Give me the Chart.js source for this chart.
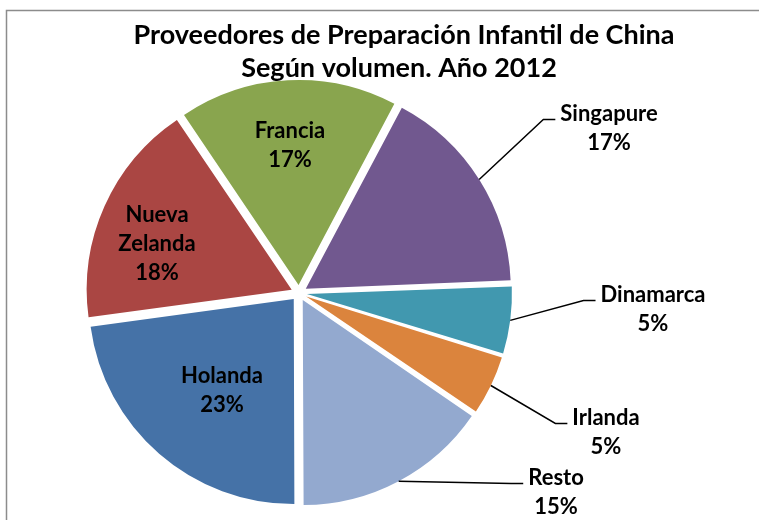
<!DOCTYPE html>
<html>
<head>
<meta charset="utf-8">
<script src="https://cdn.jsdelivr.net/npm/chart.js@4"></script>
<style>
  html, body { margin: 0; padding: 0; background: #fff; overflow: hidden; }
  #wrap { width: 806px; height: 520px; }
</style>
</head>
<body>
<div id="wrap"><canvas id="chartProveedores" width="806" height="520"></canvas></div>
<script>
/* Proveedores de preparacion infantil - China 2012 */
var paises = ['Singapure', 'Dinamarca', 'Irlanda', 'Resto', 'Holanda', 'Nueva Zelanda', 'Francia'];
var volumen = [16.6, 5.4, 4.8, 15.4, 22.9, 17.7, 17.2];
var colores = ['#71588F', '#4198AF', '#DB843D', '#93A9CF', '#4572A7', '#AA4643', '#89A54E'];
var titulo = ['Proveedores de Preparación Infantil de China', 'Según volumen. Año 2012'];

// donde va cada etiqueta, relativo al centro del pie (px); guia = linea guia
var posEtiquetas = [
  { dx: 310, dy: -165, guia: true },
  { dx: 354, dy: 16, guia: true },
  { dx: 307, dy: 139, guia: true },
  { dx: 257, dy: 199, guia: true },
  { dx: -77, dy: 97, guia: false },
  { dx: -142, dy: -49, guia: false, partir: true },
  { dx: -9, dy: -148, guia: false }
];

var radio = 205;
var separacion = 8; // explosion en px
var fuente = 'Lato, "DejaVu Sans", sans-serif';

/* Marco gris del grafico */
var marco = {
  id: 'marco',
  beforeDraw: (chart) => {
    let c = chart.ctx;
    c.save();
    c.strokeStyle = '#8c8c8c';
    c.lineWidth = 1.5;
    c.beginPath();
    c.moveTo(chart.width, 10.5);
    c.lineTo(6.5, 10.5);
    c.lineTo(6.5, chart.height);
    c.stroke();
    c.restore();
  }
};

/* Titulo (centrado sobre el marco, no sobre el pie) */
var tituloPlugin = {
  id: 'tituloPlugin',
  afterDraw: (chart) => {
    let c = chart.ctx;
    c.save();
    c.font = 'bold 27px ' + fuente;
    c.fillStyle = '#000';
    c.textAlign = 'center';
    c.textBaseline = 'alphabetic';
    c.fillText(titulo[0], 404, 44);
    c.fillText(titulo[1], 399, 77);
    c.restore();
  }
};

/* Quitar el radio extra que Chart.js agrega a las porciones chicas con offset */
var ajusteRadio = {
  id: 'ajusteRadio',
  beforeDatasetsDraw: (chart) => {
    let meta = chart.getDatasetMeta(0);
    let r = meta.controller.outerRadius;
    meta.data.forEach((arc) => {
      let fix = 1 - Math.sin(Math.min(Math.PI, arc.circumference));
      arc.outerRadius = r - separacion * fix;
    });
  }
};

/* Etiquetas con nombre y porcentaje */
var etiquetas = {
  id: 'etiquetas',
  afterDatasetsDraw: (chart) => {
    let c = chart.ctx;
    let meta = chart.getDatasetMeta(0);
    let total = volumen.reduce((a, b) => a + b, 0);
    c.save();
    c.font = 'bold 22px ' + fuente;
    c.fillStyle = '#000';
    c.textAlign = 'center';
    c.textBaseline = 'middle';
    meta.data.forEach((arc, i) => {
      let p = posEtiquetas[i];
      let lineas = p.partir ? paises[i].split(' ') : [paises[i]];
      lineas.push(Math.round(volumen[i] / total * 100) + '%');
      let cx = arc.x + p.dx;
      let cy = arc.y + p.dy;
      let alto = 29;
      let y0 = cy - (lineas.length - 1) * alto / 2;
      if (p.guia) {
        let medio = (arc.startAngle + arc.endAngle) / 2;
        let sx = arc.x + Math.cos(medio) * (separacion + radio);
        let sy = arc.y + Math.sin(medio) * (separacion + radio);
        let izq = cx - c.measureText(lineas[0]).width / 2;
        let ly = y0 + 6;
        c.beginPath();
        c.moveTo(sx, sy);
        c.lineTo(izq - 17, ly);
        c.lineTo(izq - 5, ly);
        c.strokeStyle = '#000';
        c.lineWidth = 1.5;
        c.stroke();
      }
      lineas.forEach((t, k) => c.fillText(t, cx, y0 + k * alto));
    });
    c.restore();
  }
};

var ctx = document.getElementById('chartProveedores').getContext('2d');
var myChart = new Chart(ctx, {
  type: 'pie',
  plugins: [marco, ajusteRadio, etiquetas, tituloPlugin],
  data: {
    labels: paises,
    datasets: [
      {
        data: volumen,
        backgroundColor: colores,
        borderWidth: 0,
        offset: separacion * 4,
        radius: radio,
        clip: false
      }
    ]
  },
  options: {
    responsive: false,
    animation: false,
    events: [],
    rotation: 27.9,
    layout: { padding: { left: 88, right: 296, top: 84, bottom: 18 } },
    plugins: {
      legend: { display: false },
      tooltip: { enabled: false },
      title: { display: false }
    }
  }
});
</script>
</body>
</html>
